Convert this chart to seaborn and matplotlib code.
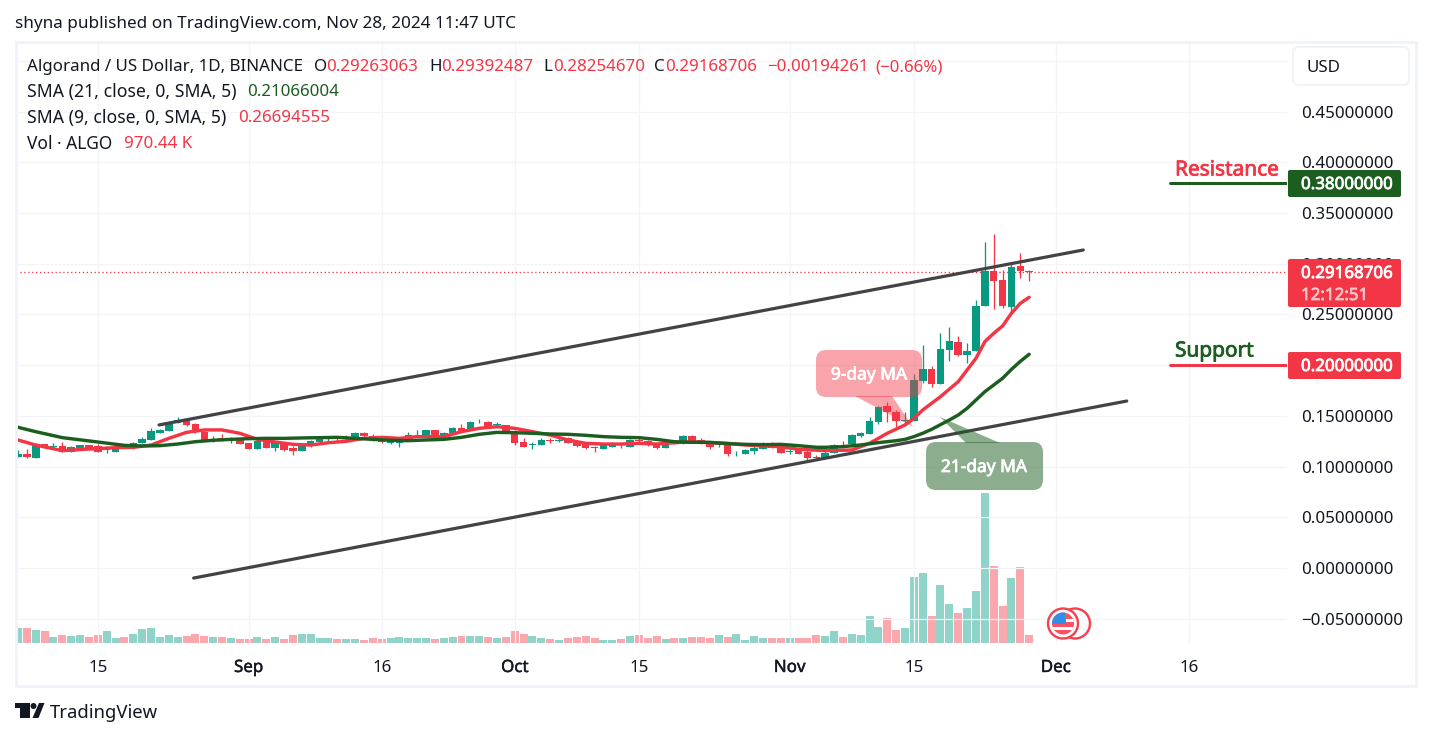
"""
plot.py
-------
ALGO/USD daily chart with SMA lines, channel, volume and TradingView style labels.
"""

import matplotlib
matplotlib.use("Agg")
import matplotlib.pyplot as plt
import matplotlib.patheffects as pe
from matplotlib.patches import Circle, FancyBboxPatch, Polygon, Rectangle
import numpy as np
import seaborn as sns

# day 0 is Aug 6 2024
opens = [.1097, .1124, .1087, .1219, .1196, .1203, .1147, .1183, .1209, .1203, .1163, .1147, .1199, .1180, .1232,
         .1262, .1334, .1354, .1433, .1459, .1416, .1344, .1268, .1282, .1265, .1278, .1229, .1176, .1249, .1183,
         .1229, .1180, .1157, .1199, .1245, .1278, .1278, .1268, .1291, .1328, .1305, .1262, .1229, .1229, .1272,
         .1318, .1311, .1357, .1301, .1328, .1377, .1361, .1436, .1436, .1407, .1407, .1344, .1242, .1212, .1216,
         .1262, .1249, .1282, .1249, .1229, .1189, .1176, .1196, .1219, .1196, .1262, .1249, .1219, .1186, .1235,
         .1226, .1298, .1262, .1229, .1216, .1216, .1140, .1127, .1157, .1176, .1229, .1199, .1143, .1170, .1143,
         .1094, .1084, .1137, .1226, .1222, .1301, .1324, .1439, .1597, .1538, .1452, .1452, .1843, .1962, .1814,
         .2149, .2228, .2103, .2139, .2583, .2928, .2839, .2573, .2977, .2926]
highs = [.1163, .1170, .1229, .1219, .1235, .1242, .1203, .1212, .1216, .1222, .1203, .1196, .1209, .1242, .1288,
         .1377, .1374, .1453, .1486, .1469, .1426, .1361, .1301, .1321, .1288, .1288, .1229, .1255, .1262, .1242,
         .1235, .1203, .1222, .1262, .1298, .1301, .1295, .1311, .1341, .1341, .1318, .1268, .1278, .1275, .1337,
         .1361, .1361, .1361, .1341, .1387, .1420, .1446, .1469, .1446, .1440, .1413, .1361, .1278, .1242, .1278,
         .1278, .1288, .1295, .1255, .1235, .1203, .1226, .1245, .1235, .1268, .1285, .1262, .1229, .1242, .1259,
         .1308, .1311, .1278, .1249, .1249, .1222, .1157, .1173, .1199, .1245, .1242, .1206, .1180, .1180, .1163,
         .1111, .1170, .1222, .1249, .1321, .1341, .1492, .1597, .1636, .1558, .1541, .1912, .2195, .1991, .2313,
         .2372, .2287, .2221, .2642, .3214, .3293, .2938, .3003, .3105, .2939]
lows = [.1091, .1087, .1087, .1180, .1180, .1147, .1143, .1180, .1170, .1143, .1130, .1147, .1180, .1170, .1229,
        .1262, .1334, .1351, .1426, .1403, .1334, .1255, .1242, .1249, .1229, .1222, .1176, .1173, .1183, .1157,
        .1157, .1117, .1153, .1196, .1242, .1255, .1239, .1262, .1262, .1295, .1255, .1229, .1222, .1196, .1268,
        .1295, .1308, .1308, .1295, .1324, .1344, .1361, .1430, .1377, .1377, .1334, .1216, .1193, .1176, .1212,
        .1235, .1245, .1232, .1196, .1176, .1147, .1173, .1193, .1183, .1193, .1239, .1206, .1176, .1183, .1219,
        .1222, .1242, .1226, .1173, .1196, .1104, .1107, .1124, .1127, .1173, .1180, .1133, .1124, .1124, .1064,
        .1064, .1081, .1130, .1190, .1196, .1288, .1321, .1420, .1443, .1387, .1420, .1449, .1827, .1788, .1814,
        .2044, .2093, .2024, .2139, .2583, .2553, .2563, .2510, .2856, .2825]
closes = [.1124, .1097, .1222, .1186, .1206, .1147, .1193, .1209, .1176, .1147, .1170, .1183, .1189, .1232, .1268,
          .1347, .1361, .1436, .1459, .1407, .1344, .1262, .1275, .1252, .1278, .1226, .1176, .1249, .1186, .1229,
          .1166, .1157, .1203, .1249, .1285, .1288, .1272, .1288, .1328, .1305, .1259, .1239, .1255, .1268, .1308,
          .1324, .1357, .1311, .1331, .1377, .1351, .1436, .1443, .1384, .1416, .1337, .1235, .1196, .1219, .1262,
          .1252, .1262, .1235, .1206, .1180, .1183, .1212, .1232, .1209, .1259, .1249, .1212, .1186, .1229, .1226,
          .1298, .1249, .1229, .1196, .1222, .1127, .1147, .1163, .1183, .1229, .1183, .1137, .1150, .1127, .1087,
          .1087, .1130, .1209, .1219, .1308, .1331, .1449, .1587, .1541, .1449, .1459, .1850, .1962, .1814, .2159,
          .2238, .2100, .2139, .2583, .2928, .2829, .2583, .2967, .2926, .2917]
# volume in millions of ALGO
volumes = [1.8, 1.8, 1.56, 1.44, .72, .96, .84, .96, .72, .96, 1.44, .6, .72, 1.08, 1.68, 1.8, .72, .96, .72, .84,
           1.08, .84, .72, .72, .6, .48, .48, .72, .48, .72, .48, .96, 1.08, 1.08, .6, .6, .48, .48, .48, .36, .6,
           .48, .6, .72, .6, .6, .6, .48, .6,
           .72, .84, .84, .84, .72, .6, .72, 1.44, 1.08, .84, .6, .48, .36, .6, .72, .84, .6, .36, .36, .48, .84,
           .96, .6, .84, .48, .6, .6, .72, .72, .6, .96, .72, 1.08, .36, .84, .6, .6, .6, .6, .6, .6, .96,
           .84, 1.44, .72, 1.08, .96, 3.24, 1.92, 3.0, 1.56, 1.8, 7.92, 8.4, 3.24, 6.96, 4.68, 3.6, 4.2, 6.24, 18.0,
           9.24, 4.44, 7.8, 9.12, .97]

sma21_days = [-1, 0, 2, 5, 9, 12, 14, 16, 18, 20, 22, 24, 26, 28, 30, 32, 34, 36, 38, 40, 42, 44, 46, 48, 50, 52, 54,
              56, 58, 60, 62, 64, 66, 68, 70, 72, 74, 76, 78, 80, 82, 84, 86, 88, 90, 91, 93, 95, 97, 99, 100, 101,
              102, 103, 104, 105, 106, 107, 108, 109, 110, 111, 112, 113, 114]
sma21 = [.1400, .1387, .1344, .1285, .1242, .1209, .1203, .1206, .1222, .1245, .1259, .1268, .1275, .1278, .1278,
         .1282, .1285, .1288, .1278, .1268, .1259, .1255, .1262, .1268, .1288, .1318, .1337, .1334, .1328, .1321,
         .1318, .1308, .1295, .1288, .1285, .1268, .1245, .1239, .1239, .1226, .1219, .1216, .1219, .1206, .1190,
         .1190, .1196, .1213, .1236, .1255, .1268, .1295, .1328, .1367, .1413, .1459, .1508, .1574, .1656, .1738,
         .1804, .1870, .1958, .2037, .2107]
sma9_days = [-1, 0, 2, 5, 8, 11, 13, 15, 17, 19, 21, 23, 25, 27, 29, 31, 33, 35, 37, 39, 41, 43, 45, 48, 50, 52, 54,
             56, 58, 60, 62, 64, 66, 68, 70, 72, 74, 76, 78, 80, 82, 84, 86, 88, 91, 94, 96, 98, 100, 101, 102, 104,
             106, 107, 108, 109, 110, 111, 112, 113, 114]
sma9 = [.1278, .1262, .1212, .1157, .1173, .1186, .1189, .1212, .1278, .1337, .1361, .1361, .1328, .1268, .1242,
        .1219, .1212, .1235, .1249, .1278, .1288, .1278, .1295, .1295, .1344, .1377, .1393, .1377, .1344, .1311,
        .1262, .1229, .1222, .1222, .1229, .1222, .1235, .1245, .1235, .1229, .1212, .1203, .1196, .1170, .1157,
        .1163, .1229, .1328, .1410, .1475, .1558, .1689, .1837, .1952, .2067, .2231, .2313, .2386, .2511, .2609,
        .2669]

upper_days = [15.9, 120.1]
upper_prices = [.1410, .3135]
lower_days = [19.8, 125.0]
lower_prices = [-.0099, .1646]
resistance = .38
support = .20
last_close = .29168706

price_ticks = [-.05, 0, .05, .10, .15, .20, .25, .30, .35, .40, .45, .50]
price_labels = ["−0.05000000", "0.00000000", "0.05000000", "0.10000000", "0.15000000", "", "0.25000000",
                "0.30000000", "0.35000000", "0.40000000", "0.45000000", ""]
time_ticks = [9, 26, 41, 56, 70, 87, 101, 117, 132]
time_labels = ["15", "Sep", "16", "Oct", "15", "Nov", "15", "Dec", "16"]

GREEN = "#089981"
RED = "#F23645"
DARK_GREEN = "#1B5E20"
INK = "#131722"
GRID = "#f3f4f7"
FRAME = "#f0f3fa"
W, H = 1431, 738
TXT = 12.2


def px(v):
    return v * 72 / 100


def medium(color, width=.55):
    # Noto Sans only comes in a regular cut here, a thin stroke thickens it
    return [pe.withStroke(linewidth=width, foreground=color)]


sns.set_theme(style="white")
plt.rcParams["font.family"] = ["Noto Sans", "DejaVu Sans"]

fig = plt.figure(figsize=(W / 100, H / 100), dpi=100, facecolor="white")
left, right, top, bottom = 16, 1287, 42, 643
ax = fig.add_axes([left / W, 1 - bottom / H, (right - left) / W, (bottom - top) / H])
ax.set_zorder(2)
ax.patch.set_visible(False)
vol_ax = ax.twinx()
vol_ax.set_zorder(1)

# volume behind price
days = np.arange(len(closes))
direction = ["up" if c >= o else "down" for o, c in zip(opens, closes)]
sns.barplot(x=days, y=volumes, hue=direction, hue_order=["up", "down"], dodge=False, native_scale=True,
            palette={"up": "#22ab94", "down": "#f7525f"}, saturation=1, alpha=.5, width=.9, linewidth=0,
            legend=False, ax=vol_ax)
vol_ax.set_ylim(0, 72.1)
vol_ax.set_yticks([])
vol_ax.set_ylabel("")

# candles
o, h, l, c = map(np.array, (opens, highs, lows, closes))
colors = [GREEN if d == "up" else RED for d in direction]
ax.vlines(days, l, h, colors=colors, linewidth=px(1.3), zorder=3)
body = np.maximum(np.abs(c - o), .0007)
ax.bar(days, body, bottom=np.minimum(o, c), width=.85, color=colors, linewidth=0, zorder=3)

sns.lineplot(x=sma9_days, y=sma9, color=RED, linewidth=px(3.4), ax=ax, zorder=4)
sns.lineplot(x=sma21_days, y=sma21, color=DARK_GREEN, linewidth=px(3.4), ax=ax, zorder=5)
sns.lineplot(x=upper_days, y=upper_prices, color="#434343", linewidth=px(3.2), ax=ax, zorder=5)
sns.lineplot(x=lower_days, y=lower_prices, color="#434343", linewidth=px(3.2), ax=ax, zorder=5)

ax.set_xlim((left - 18) / 8.87, (right - 18) / 8.87)
ax.set_ylim((568 - bottom) / 1014.4, (568 - top) / 1014.4)
ax.axhline(last_close, color=RED, linewidth=px(1.3), linestyle=(0, (1, 2)), zorder=2)
ax.plot([129.9, ax.get_xlim()[1]], [resistance, resistance], color=DARK_GREEN, linewidth=px(3), zorder=5)
ax.plot([129.9, ax.get_xlim()[1]], [support, support], color=RED, linewidth=px(3), zorder=5)

ax.set_yticks(price_ticks, price_labels)
ax.set_xticks(time_ticks, time_labels)
ax.yaxis.tick_right()
ax.tick_params(axis="y", length=0, pad=px(14), labelsize=TXT, labelcolor=INK)
ax.tick_params(axis="x", length=0, pad=px(17), labelsize=TXT, labelcolor=INK)
for lab in ax.get_xticklabels():
    if lab.get_text() in ("Sep", "Oct", "Nov", "Dec"):
        lab.set_path_effects(medium(INK, .3))
ax.grid(True, color=GRID, linewidth=px(1.2), zorder=0)
ax.set_axisbelow(True)
for a in (ax, vol_ax):
    for s in a.spines.values():
        s.set_visible(False)

# everything below is placed in image pixels
ov = fig.add_axes([0, 0, 1, 1], zorder=5)
ov.set_xlim(0, W)
ov.set_ylim(H, 0)
ov.axis("off")


def label(x, y, s, color=INK, size=TXT, **kw):
    ov.text(x, y + 3, s, color=color, fontsize=size, va="center", ha=kw.pop("ha", "left"), **kw)


def round_box(x0, y0, x1, y1, r, **kw):
    ov.add_patch(FancyBboxPatch((x0 + r, y0 + r), x1 - x0 - 2 * r, y1 - y0 - 2 * r,
                                boxstyle=f"round,pad={r},rounding_size={r}", **kw))


ov.add_patch(Rectangle((15.5, 41.5), 1400, 644, fill=False, edgecolor=FRAME, linewidth=px(3)))
label(15, 21, "shyna published on TradingView.com, Nov 28, 2024 11:47 UTC", size=12.3)

label(27, 64, "Algorand / US Dollar, 1D, BINANCE")
for x, s in [(314, "O"), (429, "H"), (543, "L"), (654, "C")]:
    label(x, 64, s)
for x, s in [(326, "0.29263063"), (441, "0.29392487"), (553, "0.28254670"), (665, "0.29168706"),
             (767, "−0.00194261"), (875, "(−0.66%)")]:
    label(x, 64, s, color=RED)
label(27, 89, "SMA (21, close, 0, SMA, 5)", size=12.7)
label(247, 89, "0.21066004", color=DARK_GREEN)
label(27, 115, "SMA (9, close, 0, SMA, 5)", size=12.7)
label(238, 115, "0.26694555", color=RED)
label(27, 141, "Vol · ALGO", size=12.5)
label(124, 141, "970.44 K", color=RED)

# callouts
ov.add_patch(Polygon([(855, 396), (892, 396), (913, 427)], closed=True, facecolor=RED, alpha=.45, linewidth=0))
round_box(816, 350, 922, 397, 10, facecolor=RED, alpha=.45, linewidth=0)
ov.text(869, 374.5, "9-day MA", color="white", fontsize=12.5, ha="center", va="center",
        path_effects=medium("white"))
ov.add_patch(Polygon([(940, 417), (966, 443), (1000, 443)], closed=True, facecolor=DARK_GREEN, alpha=.5, linewidth=0))
round_box(926, 442, 1043, 490, 10, facecolor=DARK_GREEN, alpha=.5, linewidth=0)
ov.text(984, 467, "21-day MA", color="white", fontsize=12.5, ha="center", va="center",
        path_effects=medium("white"))

label(1175, 167, "Resistance", color=RED, size=15, path_effects=medium(RED))
label(1175, 348, "Support", color=DARK_GREEN, size=15, path_effects=medium(DARK_GREEN))

# price axis boxes
round_box(1293, 47, 1409, 85, 6, facecolor="white", edgecolor=FRAME, linewidth=px(2))
label(1307, 65, "USD")
round_box(1288, 170, 1401, 197, 2, facecolor=DARK_GREEN, linewidth=0)
label(1301, 182, "0.38000000", color="white", path_effects=medium("white"))
round_box(1288, 259, 1401, 307, 2, facecolor=RED, linewidth=0)
label(1301, 271, "0.29168706", color="white", path_effects=medium("white"))
label(1301, 293, "12:12:51", color="#fbc4c9", path_effects=medium("#fbc4c9"))
round_box(1288, 352, 1401, 379, 2, facecolor=RED, linewidth=0)
label(1301, 364, "0.20000000", color="white", path_effects=medium("white"))

# flag badge
for cx in (1075, 1063):
    ov.add_patch(Circle((cx, 623.5), 15, facecolor="white", edgecolor="#f4434f", linewidth=px(2.4)))
flag = Circle((1063, 623.5), 11, facecolor="#f7525f", linewidth=0)
ov.add_patch(flag)
for rect in (Rectangle((1050, 627), 26, 3, facecolor="white", linewidth=0),
             Rectangle((1066, 619), 10, 3, facecolor="white", linewidth=0),
             Rectangle((1050, 611), 15, 13, facecolor="#2f8ee8", linewidth=0)):
    ov.add_patch(rect)
    rect.set_clip_path(flag)

# logo
ov.add_patch(Polygon([(15, 703), (30, 703), (30, 718), (20, 718), (20, 708), (15, 708)], closed=True,
                     facecolor=INK, linewidth=0))
ov.add_patch(Circle((33.5, 706), 3, facecolor=INK, linewidth=0))
ov.add_patch(Polygon([(39, 703), (44.5, 703), (38.5, 718), (32.5, 718)], closed=True, facecolor=INK, linewidth=0))
label(50, 710, "TradingView", size=13.3)

fig.savefig("out.png", dpi=100)
